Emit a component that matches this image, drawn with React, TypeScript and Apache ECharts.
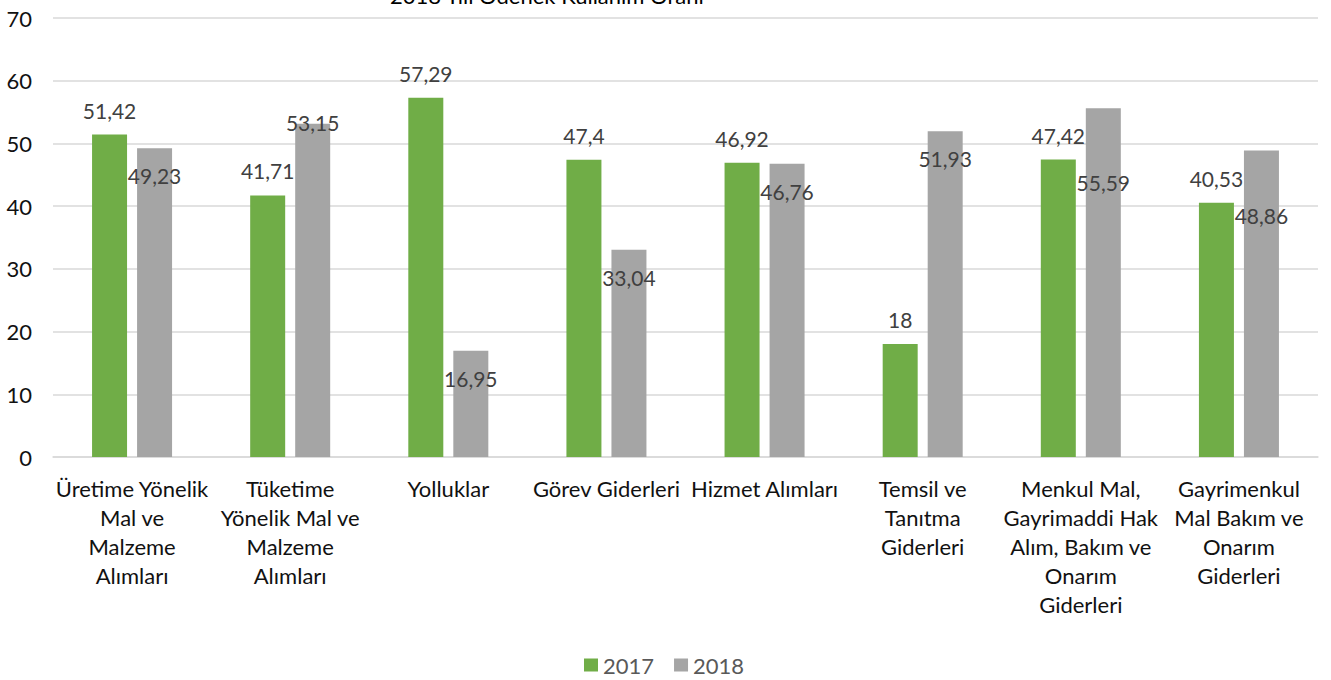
import React, { useEffect, useRef } from "react";
import * as echarts from "echarts";

const title = "2018 Yılı Ödenek Kullanım Oranı";
const categoryLabels = [
  "Üretime Yönelik\nMal ve\nMalzeme\nAlımları",
  "Tüketime\nYönelik Mal ve\nMalzeme\nAlımları",
  "Yolluklar",
  "Görev Giderleri",
  "Hizmet Alımları",
  "Temsil ve\nTanıtma\nGiderleri",
  "Menkul Mal,\nGayrimaddi Hak\nAlım, Bakım ve\nOnarım\nGiderleri",
  "Gayrimenkul\nMal Bakım ve\nOnarım\nGiderleri",
];
const seriesNames = ["2017", "2018"];
const values2017 = [51.42, 41.71, 57.29, 47.4, 46.92, 18, 47.42, 40.53];
const values2018 = [49.23, 53.15, 16.95, 33.04, 46.76, 51.93, 55.59, 48.86];
const yTicks = { min: 0, max: 70, interval: 10 };

// label vertical shifts for 2018 labels (style only)
const grayLabelShift = [0, -29, 0, 0, 0, 0, 47, 37];

const FONT = "Lato";
const fmt = (v: number) => String(v).replace(".", ",");

export default function App() {
  const ref = useRef<HTMLDivElement>(null);
  useEffect(() => {
    const chart = echarts.init(ref.current!, null, { renderer: "svg" });
    chart.setOption({
      animation: false,
      textStyle: { fontFamily: FONT },
      grid: { left: 53, right: 13, top: 18, bottom: 223, containLabel: false },
      legend: {
        data: seriesNames,
        left: 584,
        top: 654,
        padding: 0,
        itemWidth: 14,
        itemHeight: 13,
        itemGap: 20,
        icon: "rect",
        textStyle: { fontFamily: FONT, fontSize: 22, color: "#595959" },
      },
      graphic: [
        {
          type: "text",
          left: 390,
          top: -16,
          style: { text: title, fontFamily: FONT, fontSize: 22, fill: "#000" },
        },
      ],
      xAxis: {
        type: "category",
        data: categoryLabels,
        axisLine: { lineStyle: { color: "#D9D9D9", width: 1.5 } },
        axisTick: { show: false },
        axisLabel: {
          interval: 0,
          fontFamily: FONT,
          fontSize: 22,
          color: "#111",
          lineHeight: 29,
          margin: 17,
          align: "center",
        },
      },
      yAxis: {
        type: "value",
        min: yTicks.min,
        max: yTicks.max,
        interval: yTicks.interval,
        axisLine: { show: false },
        axisTick: { show: false },
        splitLine: { lineStyle: { color: "#D9D9D9", width: 1.5 } },
        axisLabel: { fontFamily: FONT, fontSize: 22, color: "#111", margin: 21 },
      },
      series: [
        {
          name: seriesNames[0],
          type: "bar",
          data: values2017,
          barWidth: 35,
          barGap: "28.6%",
          itemStyle: { color: "#70AD47" },
          label: {
            show: true,
            position: "top",
            distance: 14,
            formatter: (p: any) => fmt(p.value),
            fontFamily: FONT,
            fontSize: 21,
            color: "#404040",
          },
        },
        {
          name: seriesNames[1],
          type: "bar",
          barWidth: 35,
          data: values2018.map((v, i) => ({
            value: v,
            label: { offset: [0, grayLabelShift[i]] },
          })),
          itemStyle: { color: "#A5A5A5" },
          label: {
            show: true,
            position: "insideTop",
            distance: 17,
            formatter: (p: any) => fmt(p.value),
            fontFamily: FONT,
            fontSize: 21,
            color: "#404040",
          },
        },
      ],
    });
    return () => chart.dispose();
  }, []);
  return (
    <div
      ref={ref}
      style={{ position: "fixed", left: 0, top: 0, width: 1331, height: 680, background: "#fff" }}
    />
  );
}
